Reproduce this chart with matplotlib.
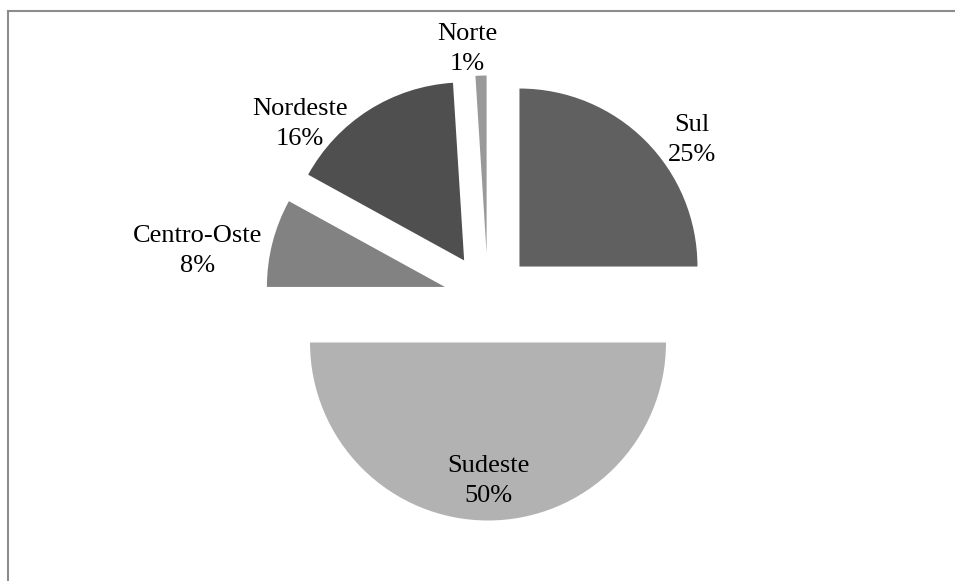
import numpy as np
import matplotlib.pyplot as plt
from matplotlib.lines import Line2D

# --- Dados -------------------------------------------------------------------
regioes = ['Sul', 'Sudeste', 'Centro-Oste', 'Nordeste', 'Norte']
percentuais = [25, 50, 8, 16, 1]
cores = ['#606060', '#b2b2b2', '#828282', '#4f4f4f', '#999999']

# posição dos rótulos em raios, relativa ao centro da pizza
pos_rotulos = [(1.146, 0.888), (0.0, -1.028), (-1.629, 0.264), (-1.056, 0.978), (-0.118, 1.399)]

plt.rcParams['font.family'] = ['Liberation Serif', 'DejaVu Serif']

fig = plt.figure(figsize=(9.55, 5.81), dpi=100)
ax = fig.add_axes([0, 0, 1, 1])

raio = 178
centro = (488, 283)

# explode do matplotlib é em unidades de dados, por isso multiplica pelo raio
ax.pie(percentuais, colors=cores, startangle=90, counterclock=False,
       explode=[0.25 * raio] * len(percentuais), radius=raio, center=centro,
       wedgeprops=dict(linewidth=0), frame=True)
ax.set_xlim(0, 955)
ax.set_ylim(0, 581)
ax.axis('off')

for nome, v, (dx, dy) in zip(regioes, percentuais, pos_rotulos):
    ax.text(centro[0] + dx * raio, centro[1] + dy * raio, f'{nome}\n{v}%',
            ha='center', va='center', fontsize=19, linespacing=1.5, color='black')

# moldura (só aparecem as bordas esquerda e superior)
fig.add_artist(Line2D([7.5 / 955, 7.5 / 955], [0, 1 - 10.5 / 581],
                      color='#8c8c8c', linewidth=1.5))
fig.add_artist(Line2D([7.5 / 955, 1], [1 - 10.5 / 581, 1 - 10.5 / 581],
                      color='#8c8c8c', linewidth=1.5))

fig.savefig('out.png', dpi=100)
